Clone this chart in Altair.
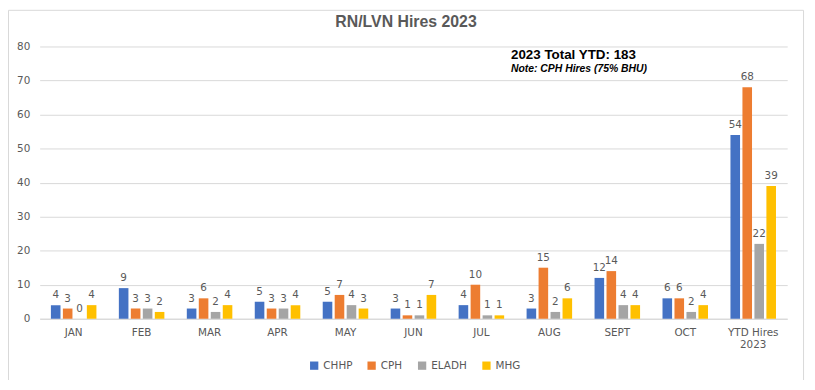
import altair as alt
import pandas as pd

months = ["JAN", "FEB", "MAR", "APR", "MAY", "JUN", "JUL", "AUG", "SEPT", "OCT", "YTD Hires 2023"]
series = ["CHHP", "CPH", "ELADH", "MHG"]
chhp = [4, 9, 3, 5, 5, 3, 4, 3, 12, 6, 54]
cph = [3, 3, 6, 3, 7, 1, 10, 15, 14, 6, 68]
eladh = [0, 3, 2, 3, 4, 1, 1, 2, 4, 2, 22]
mhg = [4, 2, 4, 4, 3, 7, 1, 6, 4, 4, 39]
colors = ["#4472C4", "#ED7D31", "#A5A5A5", "#FFC000"]
title_text = ["RN/LVN Hires 2023"]
total_text = ["2023 Total YTD: 183"]
note_text = ["Note: CPH Hires (75% BHU)"]

rows = []
for name, vals in zip(series, [chhp, cph, eladh, mhg]):
    for m, v in zip(months, vals):
        rows.append({"month": m, "series": name, "value": v})
df = pd.DataFrame(rows)

x_enc = alt.X("month:N", sort=months, title=None,
              scale=alt.Scale(paddingInner=0.33, paddingOuter=0.165),
              axis=alt.Axis(labelAngle=0, ticks=False, labelColor="#595959",
                            labelFont="DejaVu Sans", labelFontSize=10.5,
                            labelPadding=9, domainColor="#D9D9D9",
                            labelExpr="datum.value == 'YTD Hires 2023' ? ['YTD Hires', '2023'] : datum.label"))
xo_enc = alt.XOffset("series:N", sort=series, scale=alt.Scale(paddingInner=0.2))
y_enc = alt.Y("value:Q", title=None,
              scale=alt.Scale(domain=[0, 80], nice=False),
              axis=alt.Axis(values=list(range(0, 81, 10)), ticks=False, domain=False,
                            labelOverlap=False,
                            gridColor="#D9D9D9", labelColor="#595959",
                            labelFont="DejaVu Sans", labelFontSize=10.5, labelPadding=10))
color_enc = alt.Color("series:N", sort=series,
                      scale=alt.Scale(domain=series, range=colors),
                      legend=alt.Legend(title=None, orient="none", direction="horizontal",
                                        legendX=272, legendY=317, symbolType="square",
                                        symbolSize=70, symbolStrokeWidth=0,
                                        labelColor="#595959", labelFont="DejaVu Sans",
                                        labelFontSize=10.5, columnPadding=14, labelOffset=4))

base = alt.Chart(df)
bars = base.mark_bar().encode(x=x_enc, xOffset=xo_enc, y=y_enc, color=color_enc)
labels = base.mark_text(baseline="bottom", dy=-5, font="DejaVu Sans", fontSize=10.5,
                        color="#595959").encode(
    x=x_enc, xOffset=xo_enc, y=y_enc, text="value:Q")

tdf = pd.DataFrame({"t": title_text})
ann = pd.DataFrame({"t": total_text})
note = pd.DataFrame({"t": note_text})
title = alt.Chart(tdf).mark_text(align="center", baseline="middle", font="Liberation Sans",
                                 fontWeight="bold", fontSize=16, color="#595959").encode(
    x=alt.value(370), y=alt.value(-25), text="t:N")
ann1 = alt.Chart(ann).mark_text(align="left", baseline="middle", font="Liberation Sans",
                                fontWeight="bold", fontSize=13.5, color="#000000").encode(
    x=alt.value(476), y=alt.value(9), text="t:N")
ann2 = alt.Chart(note).mark_text(align="left", baseline="middle", font="Liberation Sans",
                                 fontWeight="bold", fontStyle="italic", fontSize=10.5,
                                 color="#000000").encode(
    x=alt.value(476), y=alt.value(23), text="t:N")
frame = alt.Chart(ann).mark_rect(fill=None, stroke="#D9D9D9", strokeWidth=1).encode(
    x=alt.value(-31.5), x2=alt.value(771.5), y=alt.value(-36.5), y2=alt.value(339.5))

chart = alt.layer(frame, bars, labels, title, ann1, ann2).properties(
    width=755, height=275,
    padding={"left": 32, "top": 37, "right": 20, "bottom": 60},
    autosize=alt.AutoSizeParams(type="none"),
).configure_view(stroke=None)

chart.save("out.html", embed_options={"renderer": "svg", "actions": False})
